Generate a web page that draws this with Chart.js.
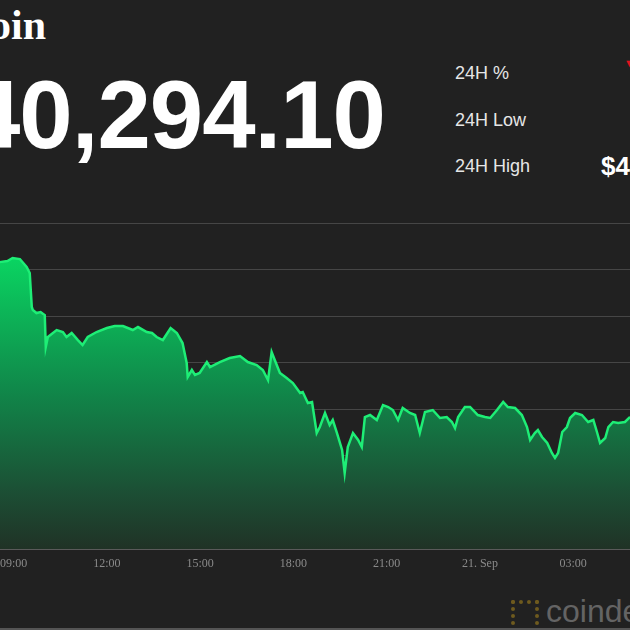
<!DOCTYPE html>
<html lang="en">
  <head>
    <meta charset="utf-8" />
    <title>Bitcoin price</title>
    <style>
      * {
        margin: 0;
        padding: 0;
      }
      body {
        width: 630px;
        height: 630px;
        overflow: hidden;
        background: #212121;
        position: relative;
        font-family: "Liberation Sans", Arial, sans-serif;
        color: #fff;
      }
      .name {
        position: absolute;
        right: 584px;
        top: 4px;
        font: bold 42px/42px "Liberation Serif", serif;
        white-space: nowrap;
      }
      .price {
        position: absolute;
        right: 245px;
        top: 67px;
        font: bold 96px/96px "Liberation Sans", Arial, sans-serif;
        letter-spacing: -1px;
        white-space: nowrap;
      }
      .stat {
        position: absolute;
        left: 455px;
        font-size: 18px;
        line-height: 20px;
        color: #e6e6e6;
        white-space: nowrap;
      }
      .statVal {
        position: absolute;
        left: 601px;
        font: bold 26px/26px "Liberation Sans", Arial, sans-serif;
        white-space: nowrap;
      }
      .down {
        position: absolute;
        left: 624px;
        top: 57px;
        color: #e0141e;
        font-size: 11px;
        white-space: nowrap;
      }
      .chartBox {
        position: absolute;
        left: -8px;
        top: 222px;
        width: 638px;
        height: 358px;
      }
      .logoIcon {
        position: absolute;
        left: 511px;
        top: 600px;
        width: 20px;
        height: 24px;
        border: 4px dotted #6e5a1e;
      }
      .logo {
        position: absolute;
        left: 546px;
        top: 595px;
        font: 32px/32px "Liberation Sans", Arial, sans-serif;
        color: #646464;
        white-space: nowrap;
      }
      .baseLine {
        position: absolute;
        left: 0;
        top: 628px;
        width: 630px;
        height: 2px;
        background: #555;
      }
    </style>
  </head>
  <body>
    <div class="name">Bitcoin</div>
    <div class="price">$40,294.10</div>
    <div class="stat" style="top: 63px">24H %</div>
    <div class="down">▼ 5.60%</div>
    <div class="stat" style="top: 110px">24H Low</div>
    <div class="stat" style="top: 156px">24H High</div>
    <div class="statVal" style="top: 153px">$47,309.24</div>

    <div class="chartBox">
      <canvas id="myChart"></canvas>
    </div>

    <div class="logoIcon"></div>
    <div class="logo">coindesk</div>
    <div class="baseLine"></div>

    <script src="https://cdn.jsdelivr.net/npm/chart.js@4/dist/chart.umd.min.js"></script>
    <script>
      // price series (day hh:mm, USD)
      const times = [
        "20 08:33", "20 08:48", "20 08:58", "20 09:12", "20 09:25", "20 09:31",
        "20 09:35", "20 09:37", "20 09:44", "20 09:52", "20 10:00", "20 10:02",
        "20 10:06", "20 10:23", "20 10:35", "20 10:42", "20 10:52", "20 11:04",
        "20 11:13", "20 11:23", "20 11:40", "20 12:00", "20 12:15", "20 12:31",
        "20 12:50", "20 13:00", "20 13:17", "20 13:27", "20 13:36", "20 13:48",
        "20 14:03", "20 14:15", "20 14:26", "20 14:34", "20 14:36", "20 14:44",
        "20 14:50", "20 14:59", "20 15:13", "20 15:19", "20 15:38", "20 15:57",
        "20 16:17", "20 16:32", "20 16:49", "20 17:01", "20 17:11", "20 17:18",
        "20 17:24", "20 17:34", "20 17:47", "20 17:59", "20 18:13", "20 18:18",
        "20 18:28", "20 18:36", "20 18:45", "20 18:51", "20 19:01", "20 19:10",
        "20 19:16", "20 19:24", "20 19:34", "20 19:39", "20 19:45", "20 19:55",
        "20 20:05", "20 20:12", "20 20:18", "20 20:28", "20 20:41", "20 20:53",
        "20 21:03", "20 21:12", "20 21:22", "20 21:31", "20 21:45", "20 21:55",
        "20 22:04", "20 22:14", "20 22:29", "20 22:43", "20 22:56", "20 23:06",
        "20 23:12", "20 23:18", "20 23:31", "20 23:41", "20 23:56", "21 00:10",
        "21 00:20", "21 00:33", "21 00:45", "21 00:54", "21 01:08", "21 01:21",
        "21 01:31", "21 01:37", "21 01:46", "21 01:52", "21 02:00", "21 02:10",
        "21 02:19", "21 02:25", "21 02:31", "21 02:39", "21 02:48", "21 02:54",
        "21 03:04", "21 03:17", "21 03:29", "21 03:39", "21 03:46", "21 03:52",
        "21 04:02", "21 04:08", "21 04:17", "21 04:27", "21 04:40", "21 04:50",
      ];
      const prices = [
        47160, 47183, 47248, 47226, 47055, 46926,
        46196, 46131, 46067, 46089, 46024, 45337,
        45552, 45702, 45659, 45552, 45638, 45487,
        45380, 45552, 45659, 45745, 45788, 45788,
        45702, 45766, 45659, 45638, 45552, 45487,
        45745, 45638, 45423, 44993, 44693, 44843,
        44736, 44779, 45015, 44908, 45015, 45101,
        45144, 45015, 44950, 44843, 44628, 45230,
        45058, 44779, 44671, 44564, 44349, 44371,
        44135, 44156, 43491, 43619, 43920, 43662,
        43770, 43491, 43126, 42632, 43190, 43491,
        43340, 43190, 43834, 43877, 43770, 44092,
        44049, 43984, 43770, 44027, 43920, 43877,
        43491, 43941, 43984, 43813, 43834, 43727,
        43598, 43834, 44049, 44049, 43877, 43834,
        43813, 43984, 44156, 44049, 44027, 43877,
        43619, 43340, 43491, 43555, 43405, 43276,
        43061, 42954, 43061, 43512, 43619, 43813,
        43920, 43877, 43727, 43770, 43512, 43276,
        43383, 43619, 43727, 43705, 43727, 43834,
      ];

      // x axis ticks (hours from 20 Sep 00:00) and their labels
      const tickHours = [9, 12, 15, 18, 21, 24, 27];
      const tickLabels = ["09:00", "12:00", "15:00", "18:00", "21:00", "21. Sep", "03:00"];

      const toHours = (s) => {
        const [day, hm] = s.split(" ");
        const [h, m] = hm.split(":").map(Number);
        return (Number(day) - 20) * 24 + h + m / 60;
      };

      const points = times.map((t, i) => ({ x: toHours(t), y: prices[i] }));

      const fillGradient = (context) => {
        const { ctx, chartArea } = context.chart;
        if (!chartArea) return "rgba(16,136,74,1)";
        const g = ctx.createLinearGradient(0, chartArea.top, 0, chartArea.bottom);
        g.addColorStop(0, "rgb(0,235,105)");
        g.addColorStop(0.13, "rgb(10,208,96)");
        g.addColorStop(0.51, "rgb(16,136,74)");
        g.addColorStop(0.83, "rgb(28,78,52)");
        g.addColorStop(1, "rgb(32,50,38)");
        return g;
      };

      const config = {
        type: "line",
        data: {
          datasets: [
            {
              data: points,
              borderColor: "rgb(30,238,118)",
              borderWidth: 2.5,
              backgroundColor: fillGradient,
              fill: "start",
              pointRadius: 0,
              tension: 0,
            },
          ],
        },
        options: {
          responsive: true,
          maintainAspectRatio: false,
          animation: false,
          layout: { padding: { top: 1, left: 0, right: 0, bottom: 0 } },
          plugins: {
            legend: { display: false },
            tooltip: { enabled: false },
          },
          scales: {
            x: {
              type: "linear",
              min: 8.55,
              max: 28.83,
              afterBuildTicks(scale) {
                scale.ticks = tickHours.map((v) => ({ value: v }));
              },
              afterFit(scale) {
                scale.height = 31;
              },
              grid: { display: false, drawTicks: false },
              border: { display: true, color: "#5a5a5a", width: 1 },
              ticks: {
                autoSkip: false,
                maxRotation: 0,
                padding: 8,
                color: "#8a8a8a",
                font: { family: "Liberation Serif", size: 12 },
                callback: (v) => tickLabels[tickHours.indexOf(v)],
              },
            },
            y: {
              min: 41000,
              max: 48000,
              z: 1,
              afterFit(scale) {
                scale.width = 0;
              },
              ticks: { display: false, stepSize: 1000 },
              border: { display: false },
              grid: {
                color: "rgba(255,255,255,0.17)",
                lineWidth: 1,
                drawTicks: false,
              },
            },
          },
        },
      };

      const myChart = new Chart(document.getElementById("myChart"), config);
    </script>
  </body>
</html>
